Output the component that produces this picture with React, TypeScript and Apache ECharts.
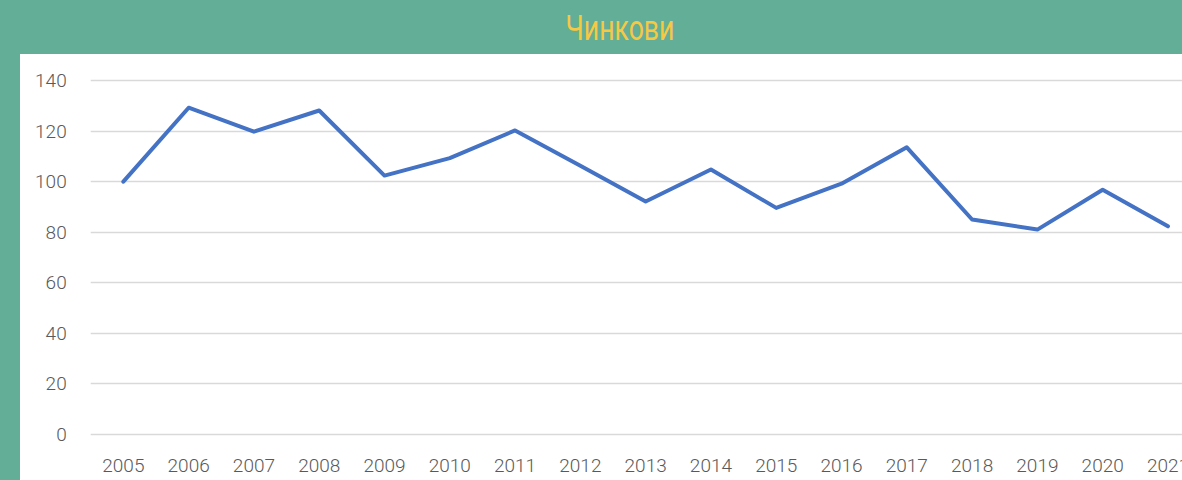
import React, { useEffect, useRef } from "react";
import * as echarts from "echarts";

const titleText = "Чинкови";
const years = ["2005","2006","2007","2008","2009","2010","2011","2012","2013","2014","2015","2016","2017","2018","2019","2020","2021"];
const values = [100, 129.3, 119.8, 128.2, 102.4, 109.3, 120.3, 106.3, 92.1, 104.8, 89.6, 99.2, 113.6, 85, 81, 96.8, 82.3];
const yMin = 0;
const yMax = 140;
const yStep = 20;

export default function App() {
  const ref = useRef<HTMLDivElement>(null);
  useEffect(() => {
    if (!ref.current) return;
    const chart = echarts.init(ref.current, null, { renderer: "svg" });
    chart.setOption({
      animation: false,
      backgroundColor: "#63AE96",
      graphic: [
        {
          type: "rect",
          shape: { x: 20, y: 54, width: 1240, height: 440 },
          style: { fill: "#FFFFFF" },
          z: -10,
        },
        {
          type: "text",
          x: 620,
          y: 28,
          scaleX: 0.74,
          style: {
            text: titleText,
            fill: "#F6C843",
            font: "400 36px Roboto",
            textAlign: "center",
            textVerticalAlign: "middle",
          },
        },
      ],
      grid: { left: 90.7, right: 39.4, top: 80.7, bottom: 46, containLabel: false },
      xAxis: {
        type: "category",
        data: years,
        boundaryGap: true,
        axisLine: { show: false },
        axisTick: { show: false },
        axisLabel: { color: "#595959", fontFamily: "Roboto", fontWeight: 300, fontSize: 19, margin: 22 },
      },
      yAxis: {
        type: "value",
        min: yMin,
        max: yMax,
        interval: yStep,
        axisLine: { show: false },
        axisTick: { show: false },
        splitLine: { lineStyle: { color: "#D9D9D9", width: 1.3 } },
        axisLabel: { color: "#595959", fontFamily: "Roboto", fontWeight: 300, fontSize: 19, margin: 24 },
      },
      series: [
        {
          type: "line",
          data: values,
          showSymbol: false,
          symbol: "none",
          lineStyle: { color: "#4472C4", width: 4, cap: "round", join: "round" },
        },
      ],
    });
    return () => chart.dispose();
  }, []);
  return (
    <div style={{ position: "fixed", left: 0, top: 0, width: 1182, height: 480, overflow: "hidden" }}>
      <div ref={ref} style={{ width: 1240, height: 480 }} />
    </div>
  );
}
